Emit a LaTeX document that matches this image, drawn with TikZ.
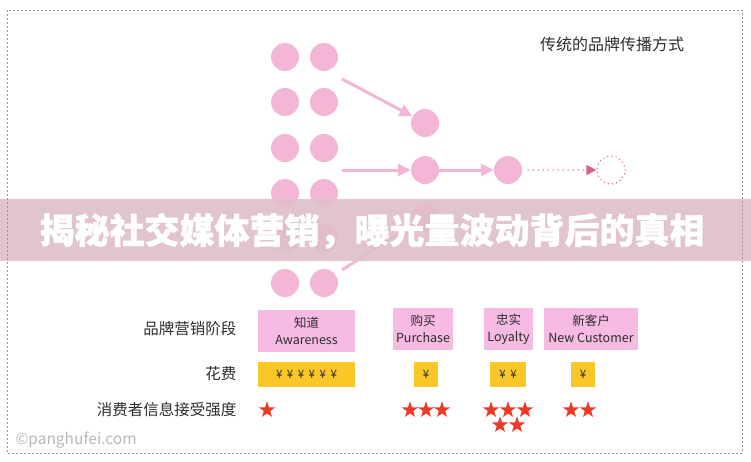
\documentclass[tikz,border=0pt]{standalone}
\usepackage{fontspec}
\setmainfont{Noto Sans CJK SC}
\usetikzlibrary{arrows.meta,shapes.geometric}
\definecolor{dotpink}{RGB}{243,182,214}
\definecolor{darkpink}{RGB}{222,96,140}
\definecolor{boxpink}{RGB}{247,186,226}
\definecolor{yenyellow}{RGB}{250,199,38}
\definecolor{starred}{RGB}{238,56,40}
\definecolor{bannerc}{RGB}{222,190,200}
\definecolor{txt}{RGB}{45,45,45}
\definecolor{bordergray}{RGB}{150,150,150}
\definecolor{wmgray}{RGB}{185,185,185}
\newcommand{\yy}{\hspace{4.5pt}}
\tikzset{
  dotc/.style={circle,fill=dotpink,minimum size=28pt,inner sep=0pt},
  ghostc/.style={circle,draw=darkpink,line cap=round,dash pattern=on 0pt off 4.2pt,line width=1.5pt,minimum size=28pt,inner sep=0pt},
  parrow/.style={draw=dotpink,line width=3pt,-{Triangle[length=13pt,width=12pt]}},
  darrow/.style={draw=darkpink,line cap=round,dash pattern=on 0pt off 5pt,line width=1.5pt,-{Triangle[length=10pt,width=10pt,fill=darkpink,line cap=butt]}},
  stagebox/.style={fill=boxpink,align=center,inner sep=0pt,minimum height=42pt,font=\fontsize{12.5}{17}\selectfont,text=txt},
  yenbox/.style={fill=yenyellow,inner sep=0pt,minimum height=25pt,font=\fontsize{11.5}{13}\selectfont,text=txt},
  rowlabel/.style={anchor=east,font=\fontsize{15.5}{17}\selectfont,text=txt},
  redstar/.style={star,star points=5,star point ratio=2.5,fill=starred,minimum size=17pt,inner sep=0pt},
}
\begin{document}
\begin{tikzpicture}[x=1pt,y=-1pt]
\useasboundingbox (0,0) rectangle (751,461);
\fill[white] (0,0) rectangle (751,461);
% grid of dots
\foreach \r/\yc in {1/57,2/102,3/148,4/193,5/238,6/283}{
  \node[dotc] (g\r a) at (285,\yc) {};
  \node[dotc] (g\r b) at (324,\yc) {};
}
% middle and right circles
\node[dotc] (m1) at (425,123) {};
\node[dotc] (m2) at (425,170) {};
\node[dotc] (m3) at (425,217) {};
\node[dotc] (n2) at (508,170) {};
\node[ghostc] (q2) at (611,170) {};
\coordinate (s1) at (342,79);
\coordinate (s2) at (342,170);
\coordinate (s3) at (342,270);
\coordinate (d0) at (528,170);
\draw[parrow] (s1) -- (m1);
\draw[parrow] (s2) -- (m2);
\draw[parrow] (s3) -- (m3);
\draw[parrow] (m2) -- (n2);
\draw[darrow] (d0) -- (q2);
% heading
\node[font=\fontsize{16}{18}\selectfont,text=txt] (head) at (612,44) {传统的品牌传播方式};
% banner
\fill[bannerc,opacity=0.9] (0,199) rectangle (751,261);
\node[text=white,font=\fontsize{35}{40}\selectfont\bfseries\addfontfeature{FakeBold=1.2}] (title) at (372,231) {揭秘社交媒体营销，曝光量波动背后的真相};
% table
\node[rowlabel] (l1) at (240,329) {品牌营销阶段};
\node[rowlabel] (l2) at (240,374) {花费};
\node[rowlabel] (l3) at (240,410) {消费者信息接受强度};
\node[stagebox,minimum width=97pt] (b1) at (306.5,331) {知道\\Awareness};
\node[stagebox,minimum width=60pt] (b2) at (423,329) {购买\\Purchase};
\node[stagebox,minimum width=49pt] (b3) at (508.5,329) {忠实\\Loyalty};
\node[stagebox,minimum width=94pt] (b4) at (591,329) {新客户\\New Customer};
\node[yenbox,minimum width=97pt] (y1) at (306.5,374.5) {¥\yy¥\yy¥\yy¥\yy¥\yy¥};
\node[yenbox,minimum width=24pt] (y2) at (426,374.5) {¥};
\node[yenbox,minimum width=36pt] (y3) at (508,374.5) {¥\yy¥};
\node[yenbox,minimum width=24pt] (y4) at (583,374.5) {¥};
\node[redstar] (s11) at (267,410) {};
\node[redstar] (s21) at (410,410) {};
\node[redstar] (s22) at (426,410) {};
\node[redstar] (s23) at (442,410) {};
\node[redstar] (s31) at (491,410) {};
\node[redstar] (s32) at (508,410) {};
\node[redstar] (s33) at (525,410) {};
\node[redstar] (s34) at (500,425) {};
\node[redstar] (s35) at (517,425) {};
\node[redstar] (s41) at (571,410) {};
\node[redstar] (s42) at (588,410) {};
% watermark and border
\node[anchor=west,text=wmgray,font=\fontsize{15.5}{17}\selectfont] (wm) at (12,440) {©panghufei.com};
\draw[bordergray,line width=0.9pt,dash pattern=on 2pt off 2pt] (7,10) rectangle (742,453);
\end{tikzpicture}
\end{document}
